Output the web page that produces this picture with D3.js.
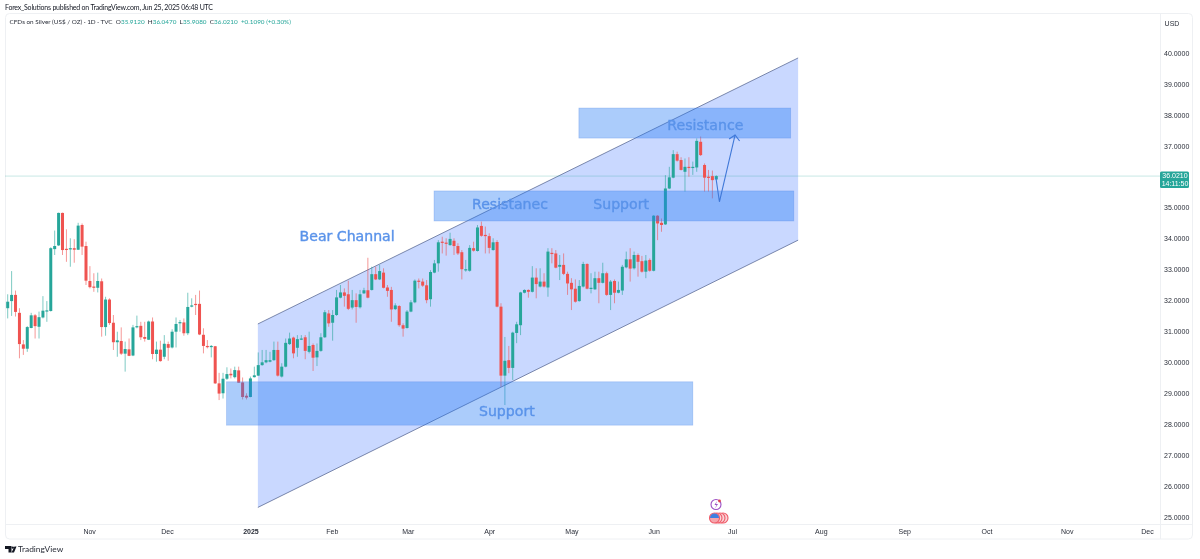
<!DOCTYPE html>
<html><head><meta charset="utf-8">
<script src="https://cdn.jsdelivr.net/npm/d3@7/dist/d3.min.js"></script>
<style>html,body{margin:0;padding:0;background:#fff}svg{display:block;filter:blur(0.35px)}text{font-family:"Liberation Sans",Arial,sans-serif}</style>
</head><body><svg id="c" width="1200" height="559"></svg>
<script>
const opens=[31.75,31.98,32.18,31.60,30.58,30.44,31.11,31.52,31.15,31.45,
31.65,31.66,33.66,33.78,34.83,33.67,33.65,33.69,33.64,34.44,
33.76,32.63,32.45,32.41,32.62,31.14,32.03,31.28,30.65,30.69,
30.28,30.42,30.22,31.14,31.18,30.82,30.73,31.32,30.27,30.41,
30.18,30.59,30.48,30.99,31.28,31.29,30.94,31.80,31.89,31.89,
30.89,30.53,30.51,30.52,29.32,29.00,29.47,29.63,29.52,29.74,
29.35,28.92,28.88,29.52,29.57,29.91,30.00,30.02,30.07,30.40,
29.54,29.86,30.59,30.80,30.47,30.75,30.81,30.34,30.56,30.16,
30.37,30.81,31.58,31.28,31.53,32.09,32.26,32.20,31.77,32.01,
31.78,32.23,32.33,32.34,32.85,32.68,32.90,32.42,32.34,31.72,
31.82,31.20,31.11,31.64,31.94,32.64,32.61,32.49,32.04,32.90,
33.20,33.90,33.87,33.79,33.93,33.76,33.56,32.98,32.96,33.69,
33.60,34.41,34.12,34.08,33.63,33.89,31.80,29.57,30.07,29.82,
30.95,31.20,32.25,32.34,32.28,32.74,32.45,32.61,32.42,33.54,
33.52,33.09,33.15,32.86,32.57,32.38,31.98,32.45,33.18,32.39,
32.36,32.72,32.57,32.88,32.18,32.63,32.25,32.32,33.07,33.33,
33.04,33.47,33.27,32.93,33.31,32.96,34.74,34.51,34.46,35.62,
35.97,36.73,36.54,36.16,36.32,36.30,36.30,37.13,36.38,36.00,36.02,35.912];
const highs=[32.20,32.95,32.32,31.75,30.72,31.17,31.60,31.56,31.64,32.14,
31.98,33.72,34.26,34.84,34.84,34.30,34.01,33.98,34.51,34.49,
33.90,33.11,32.88,32.90,32.71,32.12,32.07,31.53,30.99,31.13,
30.67,30.77,31.21,31.51,31.31,31.31,31.35,31.45,30.67,30.70,
30.88,30.67,31.07,31.45,31.37,31.42,32.25,32.07,32.18,32.32,
31.10,30.72,30.56,30.53,29.66,29.66,29.84,29.80,29.86,29.86,
29.51,29.00,29.54,29.86,30.32,30.40,30.40,30.34,30.67,30.67,
29.97,30.77,30.96,30.83,30.88,30.88,30.88,30.99,30.61,30.61,
30.94,31.69,31.69,31.69,32.34,32.50,32.39,32.64,32.34,32.23,
32.34,32.41,33.38,33.09,33.09,33.15,33.04,32.50,32.44,31.91,
31.85,31.26,31.69,32.01,32.68,32.71,32.71,32.66,32.98,33.31,
33.95,34.06,34.01,34.19,34.01,33.85,33.63,33.31,33.79,33.90,
34.44,34.55,34.39,34.17,34.01,33.95,31.91,30.82,30.53,30.99,
31.31,32.28,32.36,32.36,33.11,33.04,33.04,32.88,33.69,33.69,
33.63,33.47,33.52,32.93,32.72,32.68,32.66,33.25,33.20,32.88,
32.93,32.93,33.22,32.93,32.66,32.68,32.61,33.15,33.58,33.69,
33.58,33.52,33.44,33.47,33.36,34.76,34.76,34.65,36.05,36.32,
36.86,36.81,36.63,36.59,36.63,36.49,37.24,37.30,36.43,36.22,36.20,36.047];
const lows=[31.42,31.50,31.48,30.13,30.24,30.34,31.10,30.77,30.77,31.42,
31.31,31.64,33.47,33.76,33.47,33.25,33.09,33.22,33.63,33.47,
32.50,32.39,32.28,32.26,30.83,30.86,31.21,30.40,30.18,30.24,
29.70,30.20,30.20,31.10,30.72,30.67,30.72,30.10,30.02,30.02,
30.10,30.05,30.45,30.48,30.99,30.86,30.88,31.78,31.53,30.88,
30.29,30.45,30.16,29.30,28.78,28.83,29.43,29.48,29.48,29.34,
28.80,28.80,28.87,29.51,29.56,29.89,29.97,30.00,30.05,29.54,
29.51,29.84,30.56,30.13,30.18,30.72,30.10,30.29,29.72,29.88,
30.34,30.79,31.15,30.70,31.50,32.07,31.80,31.69,31.71,31.28,
31.74,32.21,32.07,32.32,32.66,32.66,32.39,32.12,31.31,31.69,
31.15,30.83,31.09,31.62,31.91,32.39,32.44,31.91,31.80,32.88,
32.93,33.52,33.45,33.77,33.47,33.47,32.68,32.93,32.93,33.58,
33.58,34.06,33.52,33.52,33.61,31.78,29.21,28.62,29.65,29.43,
30.62,30.88,32.23,32.09,32.26,32.07,32.42,32.42,32.12,33.20,
33.04,32.66,32.82,32.18,31.69,31.93,31.96,32.42,32.36,32.23,
32.34,31.91,32.55,32.15,31.69,31.91,32.23,32.18,33.04,32.61,
33.00,32.77,32.90,32.72,32.93,32.94,33.95,34.22,34.44,35.60,
35.95,36.49,36.20,35.52,36.00,36.06,36.16,36.67,35.52,35.52,35.30,35.908];
const closes=[31.96,32.18,31.63,30.59,30.44,31.14,31.52,31.17,31.46,31.67,
31.68,33.69,33.76,34.83,33.63,33.64,33.69,33.64,34.42,33.74,
32.64,32.43,32.41,32.63,31.14,32.03,31.27,30.65,30.71,30.28,
30.43,30.21,31.13,31.17,30.81,30.76,31.32,30.27,30.41,30.04,
30.60,30.47,30.99,31.24,31.30,30.94,31.79,31.84,31.86,30.90,
30.53,30.49,30.53,29.32,28.99,29.47,29.62,29.58,29.75,29.34,
28.88,28.86,29.48,29.58,29.91,30.00,30.07,30.07,30.40,29.57,
29.86,30.63,30.77,30.29,30.75,30.77,30.37,30.53,30.15,30.37,
30.81,31.62,31.26,31.53,32.10,32.26,32.15,31.73,32.01,31.79,
32.20,32.33,32.09,32.85,32.68,32.95,32.41,32.31,31.71,31.84,
31.20,31.09,31.64,31.94,32.64,32.61,32.48,32.01,32.92,33.20,
33.88,33.88,33.85,33.99,33.76,33.52,33.01,33.01,33.70,33.61,
34.36,34.09,34.08,33.70,33.88,31.80,29.57,30.05,29.82,30.96,
31.23,32.26,32.34,32.28,32.74,32.53,32.61,32.45,33.58,33.52,
33.06,33.15,32.86,32.55,32.36,31.96,32.47,33.18,32.38,32.41,
32.72,32.57,32.88,32.18,32.61,32.25,32.34,33.09,33.33,33.03,
33.47,33.25,32.93,33.29,32.96,34.74,34.49,34.44,35.62,35.98,
36.73,36.52,36.22,36.32,36.30,36.32,37.16,36.70,35.97,35.98,35.89,36.021];
const priceTicks=[25,26,27,28,29,30,31,32,33,34,35,37,38,39,40];
const timeLabels=["Nov","Dec","2025","Feb","Mar","Apr","May","Jun","Jul","Aug","Sep","Oct","Nov","Dec"];
const timeIndex=[20.8,40.7,62,82.8,102.2,123,144,165,185,207.7,229,250,270.5,291];
const channelTop=[[63.9,31.24],[201.9,39.84]];
const channelBottom=[[201.9,33.95],[63.9,25.31]];
const zones=[[145.9,200,38.22,37.25],[108.9,200.8,35.54,34.57],[55.9,175,29.37,27.97]];
const arrowPath=[[180.9,35.97],[181.8,35.19],[185.8,37.35]];
const notes=[["Bear Channal",86.7,34.08],["Resistance",178.2,37.66],["Resistanec",128.3,35.13],["Support",156.7,35.13],["Support",127.5,28.44]];
const lastPrice=36.021;

const svg=d3.select("#c");
const UP="#26a69a",DOWN="#ef5350",BORDER="#eef0f3",TXT="#2a2e39";
const x=d3.scaleLinear().domain([0,181]).range([7.7,716.3]);
const y=d3.scaleLinear().domain([40,25]).range([53,517]);

// frame
const frame=svg.append("g");
frame.append("rect").attr("x",5.5).attr("y",13.5).attr("width",1187).attr("height",525.5).attr("rx",4).attr("fill","#fff").attr("stroke",BORDER);
frame.append("line").attr("x1",5).attr("x2",1193).attr("y1",524.5).attr("y2",524.5).attr("stroke",BORDER);
frame.append("line").attr("x1",1160.5).attr("x2",1160.5).attr("y1",14).attr("y2",539).attr("stroke",BORDER);

// channel
const line=d3.line().x(d=>x(d[0])).y(d=>y(d[1]));
svg.append("path").attr("d",line(channelTop.concat(channelBottom))+"Z").attr("fill","#2962ff").attr("fill-opacity",.25);
[channelTop,channelBottom].forEach(s=>svg.append("path").attr("d",line(s)).attr("fill","none").attr("stroke","#5d6c95").attr("stroke-width",.8));

// price line
svg.append("line").attr("x1",5).attr("x2",1160).attr("y1",y(lastPrice)).attr("y2",y(lastPrice)).attr("stroke","#26a69a").attr("stroke-opacity",.25);

// candles
const idx=d3.range(opens.length);
svg.append("g").selectAll("line").data(idx).join("line")
 .attr("x1",i=>x(i)).attr("x2",i=>x(i)).attr("y1",i=>y(highs[i])).attr("y2",i=>y(lows[i]))
 .attr("stroke",i=>closes[i]>=opens[i]?UP:DOWN).attr("stroke-width",.8).attr("stroke-opacity",.75);
svg.append("g").selectAll("rect").data(idx).join("rect")
 .attr("x",i=>x(i)-1.5).attr("width",3)
 .attr("y",i=>y(Math.max(opens[i],closes[i])))
 .attr("height",i=>Math.max(1.2,Math.abs(y(opens[i])-y(closes[i]))))
 .attr("fill",i=>closes[i]>=opens[i]?UP:DOWN);

// zones
svg.append("g").selectAll("rect").data(zones).join("rect")
 .attr("x",d=>x(d[0])).attr("width",d=>x(d[1])-x(d[0])).attr("y",d=>y(d[2])).attr("height",d=>y(d[3])-y(d[2]))
 .attr("fill","#2278f5").attr("fill-opacity",.38).attr("stroke","#4f86e6").attr("stroke-opacity",.4).attr("stroke-width",.7);

// arrow
const tip=arrowPath[2];
svg.append("path").attr("d",line(arrowPath)).attr("fill","none").attr("stroke","#3f78d8").attr("stroke-width",1.1);
svg.append("path").attr("d",`M${x(tip[0])-6},${y(tip[1])+4}L${x(tip[0])},${y(tip[1])}L${x(tip[0])+4.5},${y(tip[1])+6}`).attr("fill","none").attr("stroke","#3f78d8").attr("stroke-width",1.1);

// notes
svg.append("g").selectAll("text").data(notes).join("text")
 .attr("x",d=>x(d[1])).attr("y",d=>y(d[2])).attr("text-anchor","middle").attr("dy","0.35em")
 .style("font-family","'DejaVu Sans'").style("font-size","14.1px")
 .attr("stroke","#5a93ea").attr("stroke-width",.4)
 .attr("fill","#5a93ea").text(d=>d[0]);

// axes
const yAxis=d3.axisRight(y).tickValues(priceTicks).tickSize(0).tickPadding(4).tickFormat(d3.format(".4f"));
const ga=svg.append("g").attr("transform","translate(1160,0)").call(yAxis);
ga.select(".domain").remove();
ga.selectAll("text").style("font-size","7px").attr("fill",TXT);
const xAxis=d3.axisBottom(x).tickValues(timeIndex).tickSize(0).tickPadding(5).tickFormat((d,i)=>timeLabels[i]);
const gx=svg.append("g").attr("transform","translate(0,524)").call(xAxis);
gx.select(".domain").remove();
gx.selectAll("text").style("font-size","7px").attr("fill",TXT).style("font-weight",(d,i)=>timeLabels[i]==="2025"?"700":"400");

svg.append("text").attr("x",1172).attr("y",25.5).attr("text-anchor","middle").style("font-size","7px").attr("fill",TXT).text("USD");

// last price label
const lab=svg.append("g");
lab.append("rect").attr("x",1160).attr("y",y(lastPrice)-4.5).attr("width",29).attr("height",16.5).attr("rx",1.5).attr("fill",UP);
lab.append("text").attr("x",1175).attr("y",y(lastPrice)+1.5).attr("text-anchor","middle").style("font-size","7px").attr("fill","#fff").text(lastPrice.toFixed(4));
lab.append("text").attr("x",1175).attr("y",y(lastPrice)+9.5).attr("text-anchor","middle").style("font-size","7px").attr("fill","#fff").text("14:11:50");

// header
svg.append("text").attr("x",5).attr("y",10).style("font-family","Lato").style("font-size","7px").attr("fill","#131722")
 .attr("textLength",208).attr("lengthAdjust","spacing").text("Forex_Solutions published on TradingView.com, Jun 25, 2025 06:48 UTC");
const legend=svg.append("text").attr("x",9.5).attr("y",24).style("font-family","Lato").style("font-size","6.36px");
[["CFDs on Silver (US$ / OZ) · 1D · TVC  ",TXT],["O",TXT],["35.9120  ",UP],["H",TXT],["36.0470  ",UP],["L",TXT],["35.9080  ",UP],["C",TXT],["36.0210  ",UP],["+0.1090 (+0.30%)",UP]]
 .forEach(d=>legend.append("tspan").attr("fill",d[1]).style("white-space","pre").text(d[0]));

// event icons
const ev=svg.append("g");
ev.append("circle").attr("cx",716).attr("cy",504.5).attr("r",5).attr("fill","#fff").attr("stroke","#9c4fc4").attr("stroke-width",1.1);
ev.append("path").attr("d","M717,501L714.5,505H716.5L715,508.5L718,504H716Z").attr("fill","#9c4fc4");
ev.append("circle").attr("cx",719.5).attr("cy",501).attr("r",1.4).attr("fill","#e0404f");
[723,720,717].forEach(cx=>ev.append("circle").attr("cx",cx).attr("cy",518).attr("r",5).attr("fill","#f9d5d8").attr("stroke","#ef5a68").attr("stroke-width",1.1));
ev.append("circle").attr("cx",714.5).attr("cy",518).attr("r",5).attr("fill","#f6a5ac").attr("stroke","#ef5a68").attr("stroke-width",1.1);
ev.append("path").attr("d","M710,518A4.5,4.5 0 0 1 719,518Z").attr("fill","#3f7fe0");

// logo
svg.append("path").attr("d","M5,546H11.5V552.5H8.5V549H5ZM14.5,546.5L16.5,546.5L14,552.5H11.5Z").attr("fill","#131722");
svg.append("circle").attr("cx",12.8).attr("cy",547.6).attr("r",1.2).attr("fill","#131722");
svg.append("text").attr("x",18).attr("y",552).style("font-family","Lato").style("font-size","8.4px").attr("fill","#2a2e39").text("TradingView");
</script></body></html>
